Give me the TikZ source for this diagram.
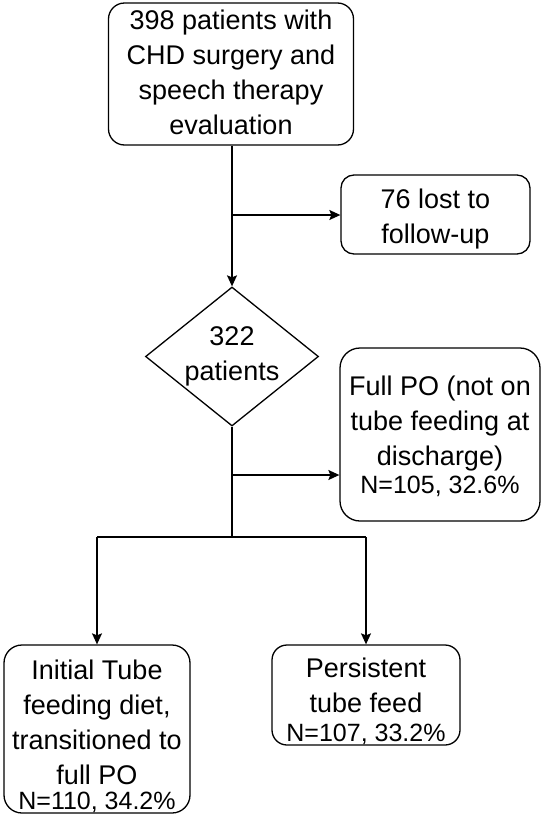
\documentclass[tikz,border=0pt]{standalone}
\usepackage{fontspec}
\setmainfont{Liberation Sans}
\usetikzlibrary{shapes.geometric,arrows.meta}
\newcommand\lowtxt[2]{\raisebox{#1}[\height][\depth]{\begin{tabular}{@{}c@{}}#2\end{tabular}}}
\begin{document}
\begin{tikzpicture}[x=1pt,y=-1pt,
  every node/.style={font=\fontsize{27}{35}\selectfont, align=center, inner sep=0pt},
  rbox/.style={draw, line width=1.3pt, rounded corners=16pt},
  conn/.style={line width=1.3pt, -{Stealth[length=11pt,width=10pt,inset=2pt]}},
  plain/.style={line width=1.3pt}]
\useasboundingbox (0,0) rectangle (550,817);
\node[rbox, minimum width=245pt, minimum height=142pt] (top) at (231,74)
  {\lowtxt{-1pt}{398 patients with\\CHD surgery and\\speech therapy\\evaluation}};
\node[rbox, rounded corners=13pt, minimum width=189pt, minimum height=79pt] (lost) at (435.5,214.5)
  {\lowtxt{-4pt}{76 lost to\\follow-up}};
\node[draw, line width=1.3pt, diamond, aspect=1.245, minimum width=173pt, minimum height=139pt] (dia) at (232,356.5)
  {322\\patients};
\node[rbox, rounded corners=20pt, minimum width=200pt, minimum height=173pt] (full) at (440,434.5)
  {\lowtxt{-3pt}{Full PO (not on\\tube feeding at\\discharge)\\[-7pt]{\fontsize{25}{30}\selectfont N=105, 32.6\%}}};
\node[rbox, rounded corners=18pt, minimum width=186pt, minimum height=168pt] (init) at (97,729)
  {\lowtxt{-8pt}{Initial Tube\\feeding diet,\\transitioned to\\full PO\\[-10pt]{\fontsize{25}{30}\selectfont N=110, 34.2\%}}};
\node[rbox, rounded corners=15pt, minimum width=188pt, minimum height=100pt] (pers) at (366,695)
  {\lowtxt{-7pt}{Persistent\\tube feed\\[-6pt]{\fontsize{25}{30}\selectfont N=107, 33.2\%}}};
\coordinate (b1) at (232,215);
\coordinate (b2) at (232,475);
\coordinate (b3) at (232,537);
\coordinate (bl) at (97,537);
\coordinate (br) at (366,537);
\draw[conn] (top.south -| dia.north) -- (dia.north);
\draw[conn] (b1) -- (lost.west |- b1);
\draw[plain] (dia.south) -- (b3);
\draw[conn] (b2) -- (full.west |- b2);
\draw[plain] (bl) -- (br);
\draw[conn] (bl) -- (init.north);
\draw[conn] (br) -- (pers.north);
\end{tikzpicture}
\end{document}
